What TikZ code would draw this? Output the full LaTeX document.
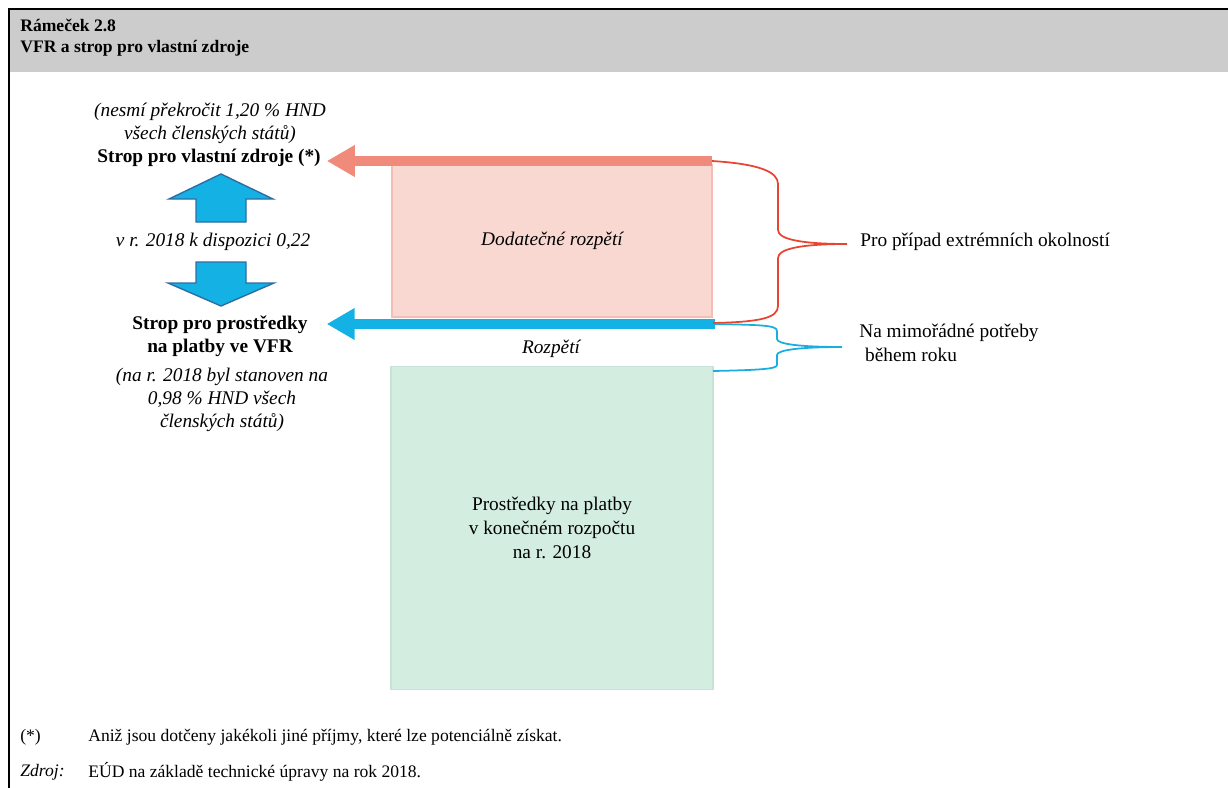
\documentclass[tikz,border=0pt]{standalone}
\usepackage{fontspec}
\setmainfont{Liberation Serif}
\usetikzlibrary{arrows.meta}

\definecolor{headgray}{RGB}{204,204,204}
\definecolor{ceilred}{RGB}{240,138,122}
\definecolor{payblue}{RGB}{20,178,228}
\definecolor{arrowline}{RGB}{46,109,164}
\definecolor{extrafill}{RGB}{249,216,210}
\definecolor{extraline}{RGB}{244,190,181}
\definecolor{finalfill}{RGB}{212,237,225}
\definecolor{finalline}{RGB}{200,228,214}
\definecolor{bracered}{RGB}{232,69,48}
\definecolor{braceblue}{RGB}{26,173,224}

\begin{document}
\begin{tikzpicture}[
    x=0.02cm, y=-0.02cm,
    txt/.style={inner sep=0pt, align=center, font=\fontsize{11}{13}\selectfont},
    note/.style={txt, font=\fontsize{11}{13}\selectfont\itshape},
    ceiling/.style={align=center, font=\fontsize{11}{13}\selectfont\bfseries},
    foot/.style={inner sep=0pt, anchor=west, font=\fontsize{10}{11}\selectfont},
    block/.style={rectangle, draw, line width=1pt, align=center, font=\fontsize{11}{13.5}\selectfont},
    blockarrow/.style={fill=payblue, draw=arrowline, line width=0.8pt, line join=miter},
    ceilarrow/.style={draw=ceilred, line width=10*0.02cm, -{Triangle[length=28*0.02cm, width=30*0.02cm]}},
    payarrow/.style={draw=payblue, line width=10*0.02cm, -{Triangle[length=28*0.02cm, width=30*0.02cm]}},
    brace/.style={line width=1pt}
]
    \useasboundingbox (0,0) rectangle (1228,788);

    % Frame and header
    \fill[headgray] (10,10) rectangle (1228,72);
    \draw[line width=2.5*0.02cm] (9,788) -- (9,9) -- (1228,9);
    \node[inner sep=0pt, anchor=west, align=left, font=\fontsize{10}{11.8}\selectfont\bfseries]
        (title) at (20,37.5) {Rámeček 2.8\\VFR a strop pro vlastní zdroje};

    % Boxes
    \node[block, fill=extrafill, draw=extraline, minimum width=6.4cm, minimum height=3.04cm,
        font=\fontsize{11}{13}\selectfont\itshape] (extra) at (552,241) {Dodatečné rozpětí};
    \node[block, fill=finalfill, draw=finalline, minimum width=6.44cm, minimum height=6.46cm]
        (final) at (552,528) {Prostředky na platby\\v konečném rozpočtu\\na r. 2018};
    \node[note] (margin) at (551,349) {Rozpětí};

    % Own resources ceiling
    \node[note] (ownresnote) at (210,123) {(nesmí překročit 1,20 \% HND\\všech členských států)};
    \node[ceiling] (ownres) at (209,158) {Strop pro vlastní zdroje (*)};

    % Block arrows
    \draw[blockarrow] (196,222) -- (196,199) -- (169,199) -- (221,174) -- (273,199)
        -- (246,199) -- (246,222) -- cycle;
    \node[note] (available) at (213,242) {v r. 2018 k dispozici 0,22};
    \draw[blockarrow] (196,262) -- (246,262) -- (246,283) -- (274,283) -- (221,306)
        -- (168,283) -- (196,283) -- cycle;

    % Payment ceiling
    \node[ceiling] (payceil) at (220,336) {Strop pro prostředky\\na platby ve VFR};
    \node[note] (payceilnote) at (222,400) {(na r. 2018 byl stanoven na\\0,98 \% HND všech\\členských států)};

    % Arrows
    \coordinate (redstart) at (712,161);
    \coordinate (bluestart) at (715,324);
    \draw[ceilarrow] (redstart) -- (ownres.east |- redstart);
    \draw[payarrow] (bluestart) -- ([xshift=0.26cm]payceil.east |- bluestart);

    % Braces
    \node[txt, anchor=west] (extreme) at (860,242) {Pro případ extrémních okolností};
    \node[txt, anchor=west, align=left, font=\fontsize{11}{13.6}\selectfont]
        (special) at (859,343) {Na mimořádné potřeby\\\hspace{0.3em}během roku};
    \coordinate (redtip) at (847,244);
    \coordinate (bluetip) at (842,347);
    \coordinate (greencorner) at (713,371);
    \draw[brace, bracered] (redstart) .. controls (760,164) and (778,172) .. (778,184)
        -- (778,230) .. controls (778,240) and (805,244) .. (redtip)
        .. controls (805,244) and (778,248) .. (778,258)
        -- (778,306) .. controls (778,318) and (760,322) .. (713,323);
    \draw[brace, braceblue] (bluestart) .. controls (760,325) and (777,325) .. (777,331)
        -- (777,339) .. controls (777,344) and (800,347) .. (bluetip)
        .. controls (800,347) and (777,350) .. (777,355)
        -- (777,365) .. controls (777,369) and (760,370) .. (greencorner);

    % Footnotes
    \node[foot] (starmark) at (20,737) {(*)};
    \node[foot] (startext) at (88,737) {Aniž jsou dotčeny jakékoli jiné příjmy, které lze potenciálně získat.};
    \node[foot] (srcmark) at (20,772) {\textit{Zdroj:}};
    \node[foot] (srctext) at (88,772) {EÚD na základě technické úpravy na rok 2018.};

\end{tikzpicture}
\end{document}
